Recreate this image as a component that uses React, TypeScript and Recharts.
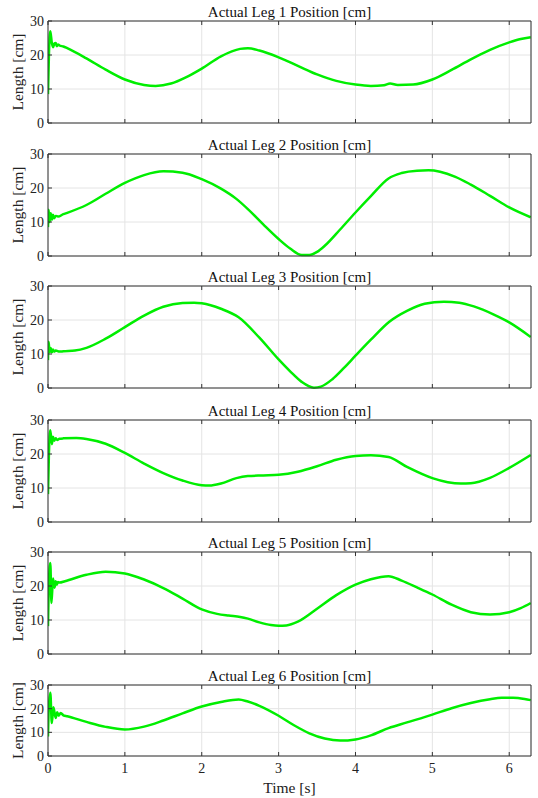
import { LineChart, Line, XAxis, YAxis, CartesianGrid } from "recharts";

// leg position samples, [time s, length cm]
const leg1: [number, number][] = [
  [0, 8.5], [0.012, 20], [0.03, 27], [0.05, 23.5], [0.065, 22.3], [0.085, 23.4],
  [0.1, 23.5], [0.115, 22.6], [0.13, 23.1], [0.15, 22.8], [0.2, 22.5], [0.25, 22.0],
  [0.5, 19.0], [0.75, 15.7], [1.0, 12.8], [1.25, 11.2], [1.4, 10.9], [1.6, 11.6],
  [1.8, 13.5], [2.0, 16.0], [2.25, 19.6], [2.5, 21.8], [2.6, 22.0], [2.75, 21.3],
  [3.0, 19.3], [3.25, 16.8], [3.5, 14.3], [3.75, 12.4], [4.0, 11.3], [4.2, 10.9],
  [4.37, 11.1], [4.45, 11.6], [4.55, 11.2], [4.75, 11.3], [5.0, 12.8], [5.25, 15.6],
  [5.5, 18.7], [5.75, 21.5], [6.0, 23.7], [6.15, 24.7], [6.28, 25.2],
];

const leg2: [number, number][] = [
  [0, 8.5], [0.008, 13.6], [0.02, 10], [0.035, 12.6], [0.05, 10.7], [0.065, 12.1],
  [0.08, 11.1], [0.1, 11.8], [0.13, 11.6], [0.2, 12.3], [0.25, 12.7], [0.5, 15.0],
  [0.75, 18.3], [1.0, 21.5], [1.25, 23.8], [1.5, 24.9], [1.75, 24.5], [2.0, 22.6],
  [2.25, 19.8], [2.45, 16.8], [2.6, 13.8], [2.8, 9.3], [3.0, 5.0], [3.15, 2.2],
  [3.3, 0.3], [3.4, 0.3], [3.5, 1.2], [3.6, 3.0], [3.8, 7.8], [4.0, 12.8],
  [4.2, 17.6], [4.43, 22.8], [4.6, 24.4], [4.8, 25.1], [4.95, 25.2], [5.1, 24.8],
  [5.3, 23.3], [5.5, 21.0], [5.75, 17.7], [6.0, 14.3], [6.28, 11.4],
];

const leg3: [number, number][] = [
  [0, 8.2], [0.008, 13.6], [0.02, 10.6], [0.035, 11.8], [0.05, 10.5], [0.065, 11.3],
  [0.08, 10.7], [0.1, 11.0], [0.15, 10.7], [0.2, 10.8], [0.35, 11.0], [0.5, 11.8],
  [0.75, 14.5], [1.0, 17.9], [1.25, 21.3], [1.5, 23.9], [1.75, 25.0], [1.9, 25.1],
  [2.0, 24.9], [2.25, 23.3], [2.48, 20.8], [2.75, 14.8], [3.0, 8.4], [3.15, 4.9],
  [3.3, 1.8], [3.46, 0.1], [3.55, 0.4], [3.7, 2.6], [3.85, 5.9], [4.0, 9.5],
  [4.2, 14.2], [4.44, 19.5], [4.67, 22.7], [4.9, 24.8], [5.15, 25.4], [5.35, 25.1],
  [5.54, 24.0], [5.8, 21.6], [6.0, 19.3], [6.28, 15.0],
];

const leg4: [number, number][] = [
  [0, 8.2], [0.012, 20], [0.03, 27.0], [0.05, 22.9], [0.065, 25.1], [0.08, 23.9],
  [0.1, 24.6], [0.12, 24.1], [0.15, 24.5], [0.2, 24.6], [0.37, 24.7], [0.5, 24.4],
  [0.75, 23.0], [1.0, 20.3], [1.25, 17.2], [1.5, 14.4], [1.75, 12.2], [2.0, 10.8],
  [2.1, 10.7], [2.25, 11.3], [2.45, 12.9], [2.6, 13.5], [2.8, 13.7], [3.0, 13.9],
  [3.25, 14.8], [3.5, 16.4], [3.75, 18.3], [4.0, 19.4], [4.2, 19.6], [4.43, 19.1],
  [4.67, 16.2], [5.0, 12.9], [5.2, 11.7], [5.37, 11.3], [5.5, 11.4], [5.75, 13.0],
  [6.0, 15.9], [6.28, 19.7],
];

const leg5: [number, number][] = [
  [0, 8.2], [0.01, 20], [0.03, 26.8], [0.045, 15.0], [0.065, 22.2], [0.085, 19.5],
  [0.1, 21.4], [0.115, 20.4], [0.13, 21.2], [0.15, 21.0], [0.22, 21.4], [0.5, 23.3],
  [0.75, 24.2], [1.0, 23.7], [1.25, 21.9], [1.5, 19.4], [1.75, 16.3], [2.0, 13.1],
  [2.2, 11.8], [2.35, 11.3], [2.5, 10.9], [2.6, 10.4], [2.75, 9.3], [2.9, 8.5],
  [3.0, 8.3], [3.1, 8.4], [3.25, 9.5], [3.5, 13.3], [3.75, 17.3], [4.0, 20.4],
  [4.2, 22.0], [4.43, 22.9], [4.6, 21.6], [4.8, 19.6], [5.0, 17.5], [5.25, 14.5],
  [5.5, 12.3], [5.75, 11.6], [6.0, 12.3], [6.15, 13.5], [6.28, 15.0],
];

const leg6: [number, number][] = [
  [0, 8.2], [0.01, 20], [0.03, 26.7], [0.05, 13.9], [0.07, 20.6], [0.1, 16.1],
  [0.12, 18.5], [0.14, 17.0], [0.165, 18.2], [0.2, 17.2], [0.25, 16.8], [0.5, 14.4],
  [0.75, 12.3], [1.0, 11.2], [1.25, 12.4], [1.5, 15.0], [1.75, 18.0], [2.0, 20.9],
  [2.25, 22.8], [2.48, 23.9], [2.6, 23.0], [2.75, 21.2], [3.0, 17.0], [3.2, 13.0],
  [3.4, 9.6], [3.6, 7.4], [3.8, 6.5], [4.0, 7.0], [4.2, 8.7], [4.43, 11.8],
  [4.67, 14.2], [5.0, 17.5], [5.25, 20.2], [5.5, 22.4], [5.75, 24.0], [5.9, 24.6],
  [6.05, 24.6], [6.2, 24.1], [6.28, 23.6],
];

const titles = [
  "Actual Leg 1 Position [cm]",
  "Actual Leg 2 Position [cm]",
  "Actual Leg 3 Position [cm]",
  "Actual Leg 4 Position [cm]",
  "Actual Leg 5 Position [cm]",
  "Actual Leg 6 Position [cm]",
];
const legs = [leg1, leg2, leg3, leg4, leg5, leg6];

const xTicks = [0, 1, 2, 3, 4, 5, 6];
const yTicks = [0, 10, 20, 30];
const X_MAX = 6.2832;

// layout of each axes box (top edge, plot height) in page pixels
const plotTops = [21, 154, 286, 420, 552, 685];
const plotHeights = [102, 102, 102, 102, 102, 71];

const FONT = "'Liberation Serif', 'Times New Roman', serif";
const AXIS = "#333333";
const GREEN = "#00ee00";
const MT = 12;

const NoTick = () => <g />;

function Panel({ idx }: { idx: number }) {
  const last = idx === legs.length - 1;
  const mb = last ? 42 : 12;
  const h = plotHeights[idx];
  const data = legs[idx].map(([t, v]) => ({ t, v }));
  const tickStyle = { fill: "#222", fontSize: 14, fontFamily: FONT };

  return (
    <div style={{ position: "absolute", left: 0, top: plotTops[idx] - MT }}>
      <LineChart
        width={538}
        height={MT + h + mb}
        data={data}
        margin={{ top: MT, right: 7, bottom: 0, left: 0 }}
      >
        <CartesianGrid stroke="#e4e4e4" />
        <XAxis
          dataKey="t"
          type="number"
          domain={[0, X_MAX]}
          ticks={xTicks}
          allowDataOverflow
          height={mb}
          stroke={AXIS}
          tickSize={-4}
          tickMargin={11}
          tick={last ? tickStyle : NoTick}
          label={
            last
              ? {
                  value: "Time [s]",
                  position: "insideBottom",
                  offset: 5,
                  style: { fill: "#222", fontSize: 15.5, fontFamily: FONT },
                }
              : undefined
          }
        />
        <XAxis
          xAxisId="top"
          orientation="top"
          mirror
          dataKey="t"
          type="number"
          domain={[0, X_MAX]}
          ticks={xTicks}
          allowDataOverflow
          stroke={AXIS}
          tickSize={4}
          tick={NoTick}
        />
        <YAxis
          type="number"
          domain={[0, 30]}
          ticks={yTicks}
          width={48}
          stroke={AXIS}
          tickSize={-4}
          tickMargin={8}
          tick={tickStyle}
          label={{
            value: "Length [cm]",
            angle: -90,
            position: "insideLeft",
            offset: 17,
            style: { fill: "#222", fontSize: 15.5, fontFamily: FONT, textAnchor: "middle" },
          }}
        />
        <YAxis
          yAxisId="right"
          orientation="right"
          mirror
          type="number"
          domain={[0, 30]}
          ticks={yTicks}
          stroke={AXIS}
          tickSize={4}
          tick={NoTick}
        />
        <Line
          type="monotone"
          dataKey="v"
          stroke={GREEN}
          strokeWidth={2.5}
          dot={false}
          isAnimationActive={false}
        />
      </LineChart>
      <div
        style={{
          position: "absolute",
          top: MT - 18,
          left: 48,
          width: 483,
          textAlign: "center",
          fontFamily: FONT,
          fontSize: 15,
          lineHeight: "18px",
          color: "#111",
        }}
      >
        {titles[idx]}
      </div>
    </div>
  );
}

export default function App() {
  return (
    <div
      style={{
        position: "absolute",
        left: 0,
        top: 0,
        width: 538,
        height: 798,
        background: "#fff",
      }}
    >
      {legs.map((_, i) => (
        <Panel key={i} idx={i} />
      ))}
    </div>
  );
}
